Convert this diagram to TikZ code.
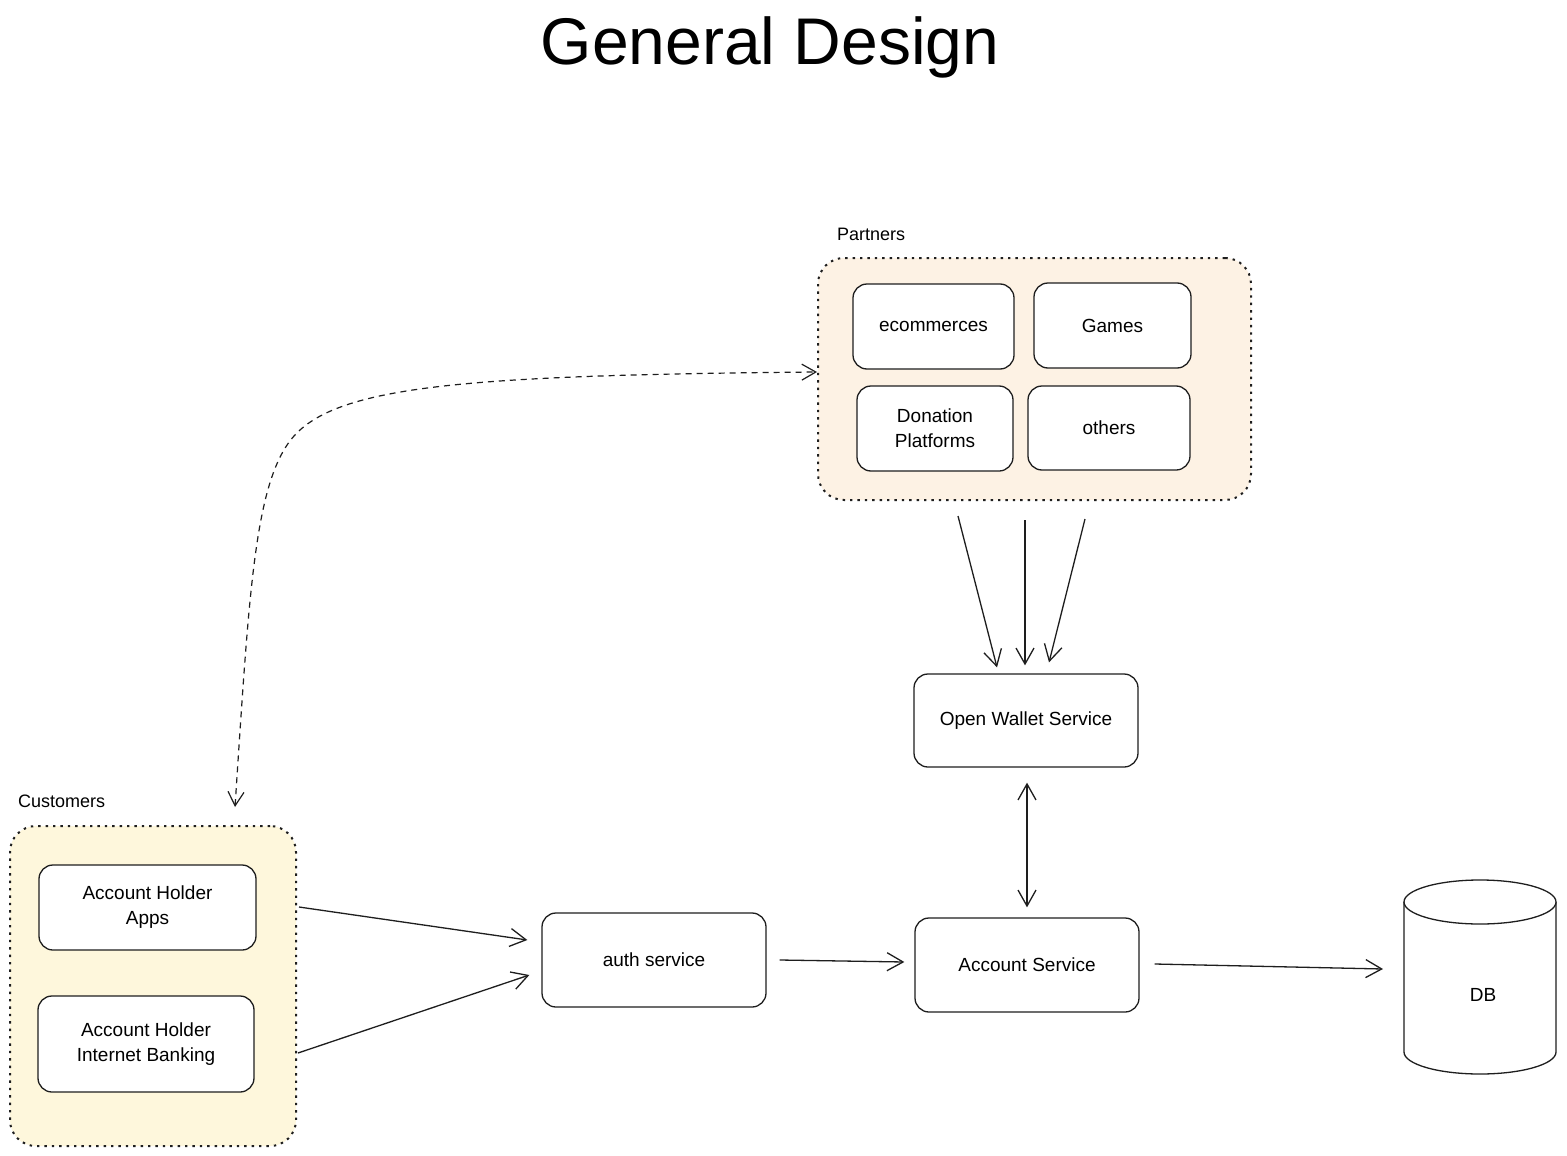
\documentclass[tikz,border=0pt]{standalone}
\usepackage{fontspec}
\setmainfont{Liberation Sans}
\usetikzlibrary{arrows.meta,calc}
\definecolor{peach}{RGB}{253,242,228}
\definecolor{cream}{RGB}{254,247,220}
\definecolor{ink}{RGB}{30,30,30}
\begin{document}
\begin{tikzpicture}[x=1pt,y=-1pt,
  box/.style={draw=ink, line width=1.3pt, rounded corners=14pt, fill=white, align=center, font=\fontsize{19}{25}\selectfont, inner sep=0pt},
  group/.style={draw=ink, line width=2pt, dash pattern=on 2.4pt off 5pt, rounded corners=26pt, inner sep=0pt},
  lbl/.style={font=\fontsize{18}{21}\selectfont, anchor=west, inner sep=0pt},
  conn/.style={draw=ink, line width=1.3pt, -{Straight Barb[length=16pt,width=18pt]}},
  biconn/.style={draw=ink, line width=1.3pt, {Straight Barb[length=16pt,width=18pt]}-{Straight Barb[length=16pt,width=18pt]}},
  dconn/.style={draw=ink, line width=1.2pt, dash pattern=on 6pt off 5pt, {Straight Barb[length=14pt,width=16pt]}-{Straight Barb[length=14pt,width=16pt]}}
]
\useasboundingbox[fill=white] (0,0) rectangle (1567,1156);

\node[font=\fontsize{66}{72}\selectfont, inner sep=0pt] (title) at (770,47) {General Design};

% Partners
\node[group, fill=peach, minimum width=433pt, minimum height=242pt] (partners) at (1034.5,379) {};
\node[lbl] (plabel) at (837,234) {Partners};
\node[box, minimum width=161pt, minimum height=85pt] (ecom) at (933.5,326.5) {ecommerces};
\node[box, minimum width=157pt, minimum height=85pt] (games) at (1112.5,325.5) {Games};
\node[box, minimum width=156pt, minimum height=85pt] (don) at (935,428.5) {Donation\\Platforms};
\node[box, minimum width=162pt, minimum height=84pt] (others) at (1109,428) {others};

% Customers
\node[group, fill=cream, minimum width=286pt, minimum height=320pt] (cust) at (153,986) {};
\node[lbl] (clabel) at (18,801) {Customers};
\node[box, minimum width=217pt, minimum height=85pt] (apps) at (147.5,907.5) {Account Holder\\Apps};
\node[box, minimum width=216pt, minimum height=96pt] (ib) at (146,1044) {Account Holder\\Internet Banking};

% Services
\node[box, minimum width=224pt, minimum height=94pt] (auth) at (654,960) {auth service};
\node[box, minimum width=224pt, minimum height=94pt] (acct) at (1027,965) {Account Service};
\node[box, minimum width=224pt, minimum height=93pt] (ows) at (1026,720.5) {Open Wallet Service};

% DB cylinder
\draw[ink, line width=1.3pt, fill=white] (1404,902) -- (1404,1052) arc[start angle=180, end angle=0, x radius=76, y radius=22] -- (1556,902);
\draw[ink, line width=1.3pt, fill=white] (1480,902) ellipse[x radius=76, y radius=22];
\node[font=\fontsize{19}{25}\selectfont, inner sep=0pt] (db) at (1483,995) {DB};
\coordinate (dbin) at (1403,969);

% Connectors
\coordinate (d1) at ($(cust.north)+(82,-18)$);
\coordinate (d2) at ($(partners.west)+(0,-7)$);
\draw[dconn] (d1) .. controls (250,580) and (255,470) .. (300,430) .. controls (350,385) and (480,375) .. (d2);

\draw[conn] ($(partners.south)+(-76.5,15)$) -- ($(ows.north)+(-29,-6)$);
\draw[conn] ($(partners.south)+(-9.5,19)$) -- ($(ows.north)+(-1,-8)$);
\draw[conn] ($(partners.south)+(50.5,18)$) -- ($(ows.north)+(23,-11)$);
\draw[biconn] ($(ows.south)+(1,15)$) -- ($(acct.north)+(0,-10)$);

\draw[conn] ($(cust.east)+(2,-79)$) -- ($(auth.west)+(-14,-20)$);
\draw[conn] ($(cust.east)+(1,67)$) -- ($(auth.west)+(-12,15)$);
\draw[conn] ($(auth.east)+(13,0)$) -- ($(acct.west)+(-10,-3)$);
\draw[conn] ($(acct.east)+(15,-1)$) -- ($(dbin)+(-20,0)$);
\end{tikzpicture}
\end{document}
